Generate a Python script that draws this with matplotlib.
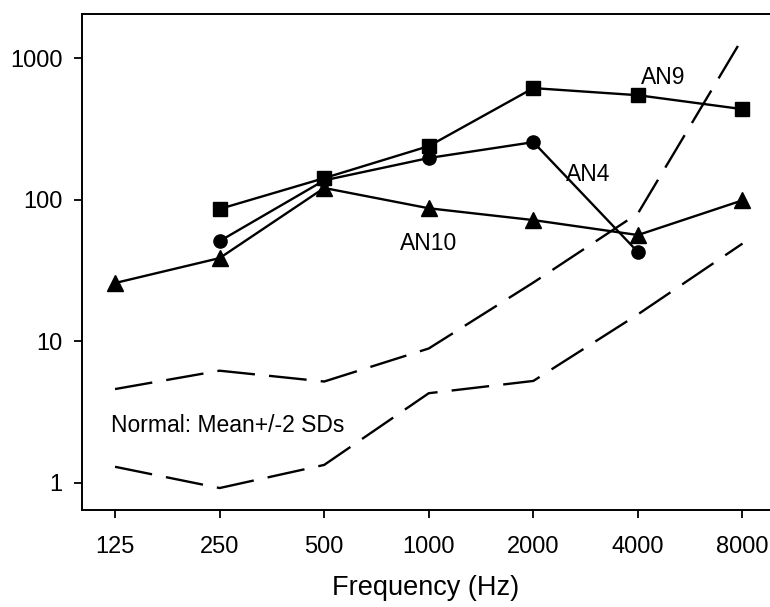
import numpy as np
from matplotlib import pyplot as plt
from matplotlib.ticker import FixedLocator, NullLocator, FixedFormatter

# Данные
freqs = [125, 250, 500, 1000, 2000, 4000, 8000]
freq_labels = ['125', '250', '500', '1000', '2000', '4000', '8000']

an9_freq = [250, 500, 1000, 2000, 4000, 8000]
an9_vals = [86, 142, 239, 614, 547, 436]

an4_freq = [250, 500, 1000, 2000, 4000]
an4_vals = [51, 137, 197, 255, 42.7]

an10_freq = [125, 250, 500, 1000, 2000, 4000, 8000]
an10_vals = [25.8, 38.7, 121, 87, 71.8, 56.3, 99]

norm_upper = [4.6, 6.2, 5.2, 8.9, 26, 80, 1380]
norm_lower = [1.30, 0.92, 1.34, 4.3, 5.25, 15.5, 49]

y_ticks = [1, 10, 100, 1000]
y_labels = ['1', '10', '100', '1000']

plt.rcParams['font.family'] = ['Liberation Sans', 'DejaVu Sans']

fig = plt.figure(figsize=(7.7, 6.07), dpi=100, facecolor='white')
ax = fig.add_axes([0.1065, 0.160, 0.8935, 0.817])

line_kw = dict(color='black', linewidth=1.7)
ax.plot(an9_freq, an9_vals, marker='s', markersize=9.5, **line_kw)
ax.plot(an4_freq, an4_vals, marker='o', markersize=9.5, **line_kw)
ax.plot(an10_freq, an10_vals, marker='^', markersize=11.5, **line_kw)

dash_kw = dict(color='black', linewidth=1.7, dashes=(16, 6))
ax.plot(freqs, norm_upper, **dash_kw)
ax.plot(freqs, norm_lower, **dash_kw)

# Масштабы осей
ax.set_xscale('log', base=2)
ax.set_yscale('log')
ax.set_xlim(125 * 2 ** -0.316, 125 * 2 ** 6.263)
ax.set_ylim(0.645, 2050)

ax.xaxis.set_major_locator(FixedLocator(freqs))
ax.xaxis.set_major_formatter(FixedFormatter(freq_labels))
ax.xaxis.set_minor_locator(NullLocator())
ax.yaxis.set_major_locator(FixedLocator(y_ticks))
ax.yaxis.set_major_formatter(FixedFormatter(y_labels))
ax.yaxis.set_minor_locator(NullLocator())

ax.tick_params(direction='out', length=6, width=1.3, labelsize=17)
ax.tick_params(axis='x', pad=13)
ax.tick_params(axis='y', pad=8)
ax.spines['right'].set_visible(False)
for s in ['left', 'bottom', 'top']:
    ax.spines[s].set_linewidth(1.4)

ax.set_xlabel('Frequency (Hz)', fontsize=19.5, labelpad=12)

# Подписи кривых
ax.text(4090, 733, 'AN9', fontsize=16.5, ha='left', va='center')
ax.text(2475, 150, 'AN4', fontsize=16.5, ha='left', va='center')
ax.text(1000, 49, 'AN10', fontsize=16.5, ha='center', va='center')
ax.text(122, 2.55, 'Normal: Mean+/-2 SDs', fontsize=16.5, ha='left', va='center')

plt.savefig('out.png', dpi=100, facecolor='white')
plt.close()
